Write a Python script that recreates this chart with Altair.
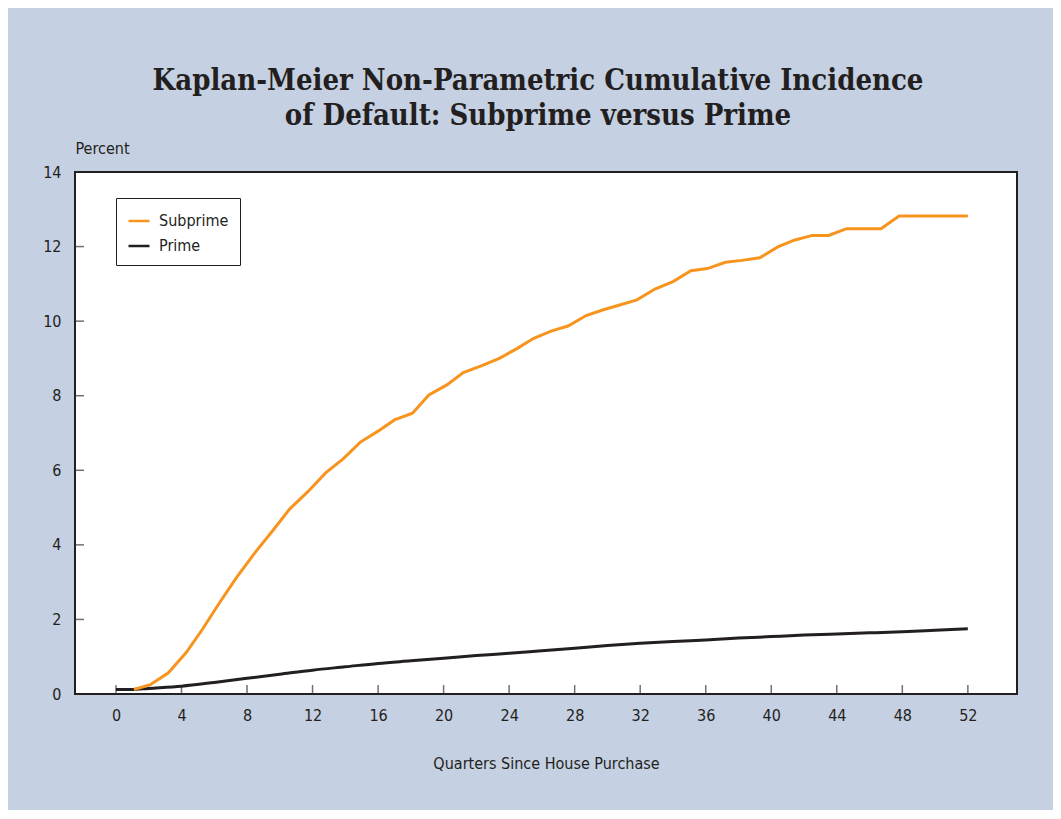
import altair as alt
import pandas as pd

# Subprime cumulative incidence (percent) by quarter since purchase
sub_q = [1.1, 2.1, 3.2, 4.3, 5.3, 6.4, 7.4, 8.5, 9.6, 10.6, 11.7, 12.8, 13.9, 14.9,
         16.0, 17.0, 18.1, 19.1, 20.2, 21.2, 22.3, 23.4, 24.5, 25.5, 26.6, 27.6,
         28.7, 29.7, 30.8, 31.8, 32.9, 34.0, 35.1, 36.1, 37.2, 38.2, 39.3, 40.4,
         41.4, 42.5, 43.5, 44.6, 45.7, 46.7, 47.8, 48.8, 49.9, 50.9, 52.0]
sub_v = [0.12, 0.25, 0.57, 1.12, 1.75, 2.5, 3.15, 3.8, 4.4, 4.96, 5.42, 5.93, 6.32,
         6.75, 7.05, 7.35, 7.53, 8.02, 8.29, 8.62, 8.8, 9.0, 9.27, 9.54, 9.74, 9.87,
         10.15, 10.3, 10.44, 10.57, 10.86, 11.06, 11.35, 11.41, 11.58, 11.63, 11.7,
         11.99, 12.17, 12.3, 12.3, 12.48, 12.48, 12.48, 12.82, 12.82, 12.82, 12.82, 12.82]

# Prime cumulative incidence (percent)
prime_q = [0, 1, 2, 4, 6, 8, 10, 12, 14, 16, 18, 20, 22, 24, 26, 28, 30, 32, 34, 36,
           38, 40, 42, 44, 46, 48, 50, 52]
prime_v = [0.12, 0.12, 0.15, 0.21, 0.31, 0.42, 0.53, 0.64, 0.73, 0.82, 0.89, 0.96,
           1.03, 1.09, 1.16, 1.23, 1.30, 1.36, 1.41, 1.45, 1.50, 1.54, 1.58, 1.61,
           1.64, 1.67, 1.71, 1.75]

series_names = ["Subprime", "Prime"]
series_colors = ["#f7941d", "#231f20"]
x_ticks = list(range(0, 53, 4))
y_ticks = list(range(0, 15, 2))

TEXT = "#231f20"
SANS = "Liberation Sans Narrow, DejaVu Sans Condensed, Roboto"
BG = "#c5d0e2"

sub_df = pd.DataFrame({"quarter": sub_q, "percent": sub_v, "series": "Subprime"})
prime_df = pd.DataFrame({"quarter": prime_q, "percent": prime_v, "series": "Prime"})
xt_df = pd.DataFrame({"quarter": x_ticks})
yt_df = pd.DataFrame({"percent": y_ticks[1:-1]})

xscale = alt.Scale(domain=[-2.5, 55], nice=False, zero=False)
yscale = alt.Scale(domain=[0, 14], nice=False)

x_enc = alt.X("quarter:Q", scale=xscale,
              axis=alt.Axis(values=x_ticks, title="Quarters Since House Purchase",
                            ticks=False, domain=False, grid=False, labelPadding=13,
                            titleY=69, titleBaseline="middle"))
y_enc = alt.Y("percent:Q", scale=yscale,
              axis=alt.Axis(values=y_ticks, title="Percent", ticks=False, domain=False,
                            grid=False, labelPadding=14, titleAngle=0, titleAlign="left",
                            titleX=0, titleY=-24, titleBaseline="middle"))
color_enc = alt.Color("series:N",
                      scale=alt.Scale(domain=series_names, range=series_colors),
                      legend=alt.Legend(title=None, orient="none", legendX=41, legendY=26,
                                        symbolType="stroke", symbolSize=441,
                                        symbolStrokeWidth=2.5, labelFontSize=16,
                                        labelFont=SANS, labelColor=TEXT,
                                        labelOffset=8, rowPadding=5, padding=11,
                                        strokeColor="#231f20", fillColor="white"))

sub_line = alt.Chart(sub_df).mark_line(strokeWidth=3).encode(
    x=x_enc, y=y_enc, color=color_enc)
prime_line = alt.Chart(prime_df).mark_line(strokeWidth=3, interpolate="monotone").encode(
    x=x_enc, y=y_enc, color=color_enc)

xticks = alt.Chart(xt_df).mark_tick(orient="vertical", size=9, thickness=1.5,
                                    color="#333333", yOffset=-4.5).encode(
    x=x_enc, y=alt.datum(0))
yticks = alt.Chart(yt_df).mark_tick(orient="horizontal", size=9, thickness=1.5,
                                    color="#333333", xOffset=4.5).encode(
    y=y_enc, x=alt.datum(-2.5))

chart = alt.layer(xticks, yticks, prime_line, sub_line).properties(
    width=942, height=522,
    autosize=alt.AutoSizeParams(type="none"),
    padding={"left": 67, "top": 164, "right": 36, "bottom": 116},
    background=BG,
    title=alt.TitleParams(
        text=["Kaplan-Meier Non-Parametric Cumulative Incidence",
              "of Default: Subprime versus Prime"],
        font="DejaVu Serif Condensed, DejaVu Serif", fontSize=29, fontWeight="bold",
        color=TEXT, anchor="middle", lineHeight=35, offset=9, dx=-8),
).configure_view(
    stroke="#231f20", strokeWidth=2, fill="white"
).configure_axis(
    labelFont=SANS, labelFontSize=16, labelColor=TEXT,
    titleFont=SANS, titleFontSize=16, titleColor=TEXT, titleFontWeight="normal",
)

chart.save("out.html", embed_options={"renderer": "svg", "actions": False})
